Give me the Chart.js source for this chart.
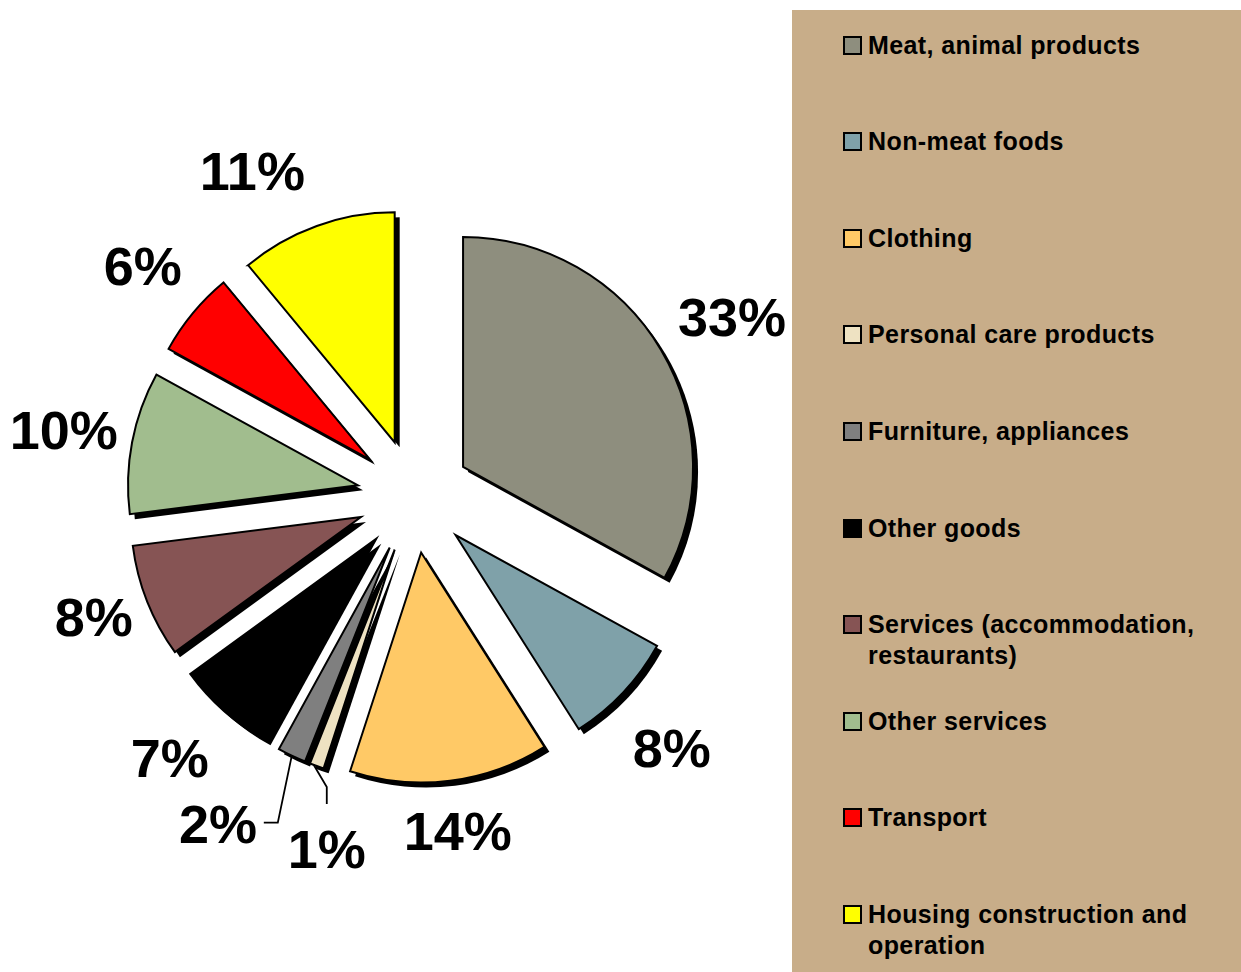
<!DOCTYPE html>
<html>
<head>
<meta charset="utf-8">
<title>Spending breakdown</title>
<script src="https://cdn.jsdelivr.net/npm/chart.js@4/dist/chart.umd.min.js"></script>
<style>
  html, body { margin: 0; padding: 0; background: #fff; }
  #wrap { position: relative; width: 1241px; height: 972px; overflow: hidden; }
  #pie { position: absolute; left: 0; top: 0; }
  #legend {
    position: absolute; left: 792px; top: 10px; width: 449px; height: 962px;
    background: #C8AD89;
    font-family: "Liberation Sans", Arial, sans-serif; font-weight: bold;
    font-size: 25px; letter-spacing: 0.4px; line-height: 31px; color: #000;
  }
  #legend .item { position: absolute; left: 76px; width: 370px; white-space: nowrap; }
  #legend .box {
    position: absolute; left: -25px; top: 6px; width: 15px; height: 15px;
    border: 2px solid #000;
  }
</style>
</head>
<body>
<div id="wrap">
  <canvas id="pie" width="1241" height="972"></canvas>
  <div id="legend"></div>
</div>
<script>
const categories = [
  "Meat, animal products",
  "Non-meat foods",
  "Clothing",
  "Personal care products",
  "Furniture, appliances",
  "Other goods",
  ["Services (accommodation,", "restaurants)"],
  "Other services",
  "Transport",
  ["Housing construction and", "operation"]
];
const shares = [33, 8, 14, 1, 2, 7, 8, 10, 6, 11];
const colors = [
  "#8E8E7E", "#7FA1A9", "#FFC966", "#EEE2C2", "#7F7F7F",
  "#000000", "#865454", "#A1BD8E", "#FF0000", "#FFFF00"
];

// label distance from pie centre and angular nudge (degrees) per slice
const labelRadius = [364, 362, 340, 366, 384, 360, 343, 356, 354, 361];
const labelNudge = [1.5, 1.4, -0.2, -6, 5.5, 1.3, 0.6, -0.4, 0.4, -6.8];
// leader lines for the thin slices, relative to the slice's outer edge
const leaders = {
  3: [[-3, -1], [10, 21], [10, 38]],
  4: [[0, 0], [-14, 67], [-28, 67]]
};

const EXPLODE = 57;
const SHADOW = 5;

const explodePlugin = {
  id: "explode",
  afterDatasetUpdate(chart, args) {
    args.meta.data.forEach(arc => {
      const mid = (arc.startAngle + arc.endAngle) / 2;
      arc.x += Math.cos(mid) * EXPLODE;
      arc.y += Math.sin(mid) * EXPLODE;
    });
  }
};

const shadowPlugin = {
  id: "sliceShadow",
  beforeDatasetDraw(chart, args) {
    const ctx = chart.ctx;
    ctx.save();
    ctx.fillStyle = "#000";
    args.meta.data.forEach(arc => {
      const x = arc.x + SHADOW, y = arc.y + SHADOW;
      ctx.beginPath();
      ctx.moveTo(x, y);
      ctx.arc(x, y, arc.outerRadius, arc.startAngle, arc.endAngle);
      ctx.closePath();
      ctx.fill();
    });
    ctx.restore();
  }
};

const labelPlugin = {
  id: "pctLabels",
  afterDatasetDraw(chart, args) {
    const ctx = chart.ctx;
    const area = chart.chartArea;
    const cx = (area.left + area.right) / 2;
    const cy = (area.top + area.bottom) / 2;
    ctx.save();
    ctx.font = "bold 54px 'Liberation Sans', Arial, sans-serif";
    ctx.fillStyle = "#000";
    ctx.textAlign = "center";
    ctx.textBaseline = "middle";
    args.meta.data.forEach((arc, i) => {
      const mid = (arc.startAngle + arc.endAngle) / 2;
      const a = mid + labelNudge[i] * Math.PI / 180;
      const lx = cx + Math.cos(a) * labelRadius[i];
      const ly = cy + Math.sin(a) * labelRadius[i];
      ctx.fillText(shares[i] + "%", lx, ly + 2);

      if (leaders[i]) {
        const ox = arc.x + Math.cos(mid) * arc.outerRadius;
        const oy = arc.y + Math.sin(mid) * arc.outerRadius;
        ctx.beginPath();
        ctx.lineWidth = 1.8;
        ctx.strokeStyle = "#000";
        leaders[i].forEach((p, k) => {
          if (k === 0) ctx.moveTo(ox + p[0], oy + p[1]);
          else ctx.lineTo(ox + p[0], oy + p[1]);
        });
        ctx.stroke();
      }
    });
    ctx.restore();
  }
};

new Chart(document.getElementById("pie"), {
  type: "pie",
  data: {
    labels: categories,
    datasets: [{
      data: shares,
      backgroundColor: colors,
      borderColor: "#000",
      borderWidth: 2,
      borderJoinStyle: "miter",
      radius: 230
    }]
  },
  options: {
    responsive: false,
    animation: false,
    layout: { padding: { top: 20, right: 413, left: 0, bottom: 0 } },
    plugins: {
      legend: { display: false },
      tooltip: { enabled: false }
    }
  },
  plugins: [explodePlugin, shadowPlugin, labelPlugin]
});

// legend panel on the right
const legendEl = document.getElementById("legend");
categories.forEach((name, i) => {
  const item = document.createElement("div");
  item.className = "item";
  item.style.top = (45 + i * 96.6 - 10 - 15.5) + "px";
  const box = document.createElement("span");
  box.className = "box";
  box.style.background = colors[i];
  item.appendChild(box);
  const lines = Array.isArray(name) ? name : [name];
  lines.forEach(line => {
    const d = document.createElement("div");
    d.textContent = line;
    item.appendChild(d);
  });
  legendEl.appendChild(item);
});
</script>
</body>
</html>
